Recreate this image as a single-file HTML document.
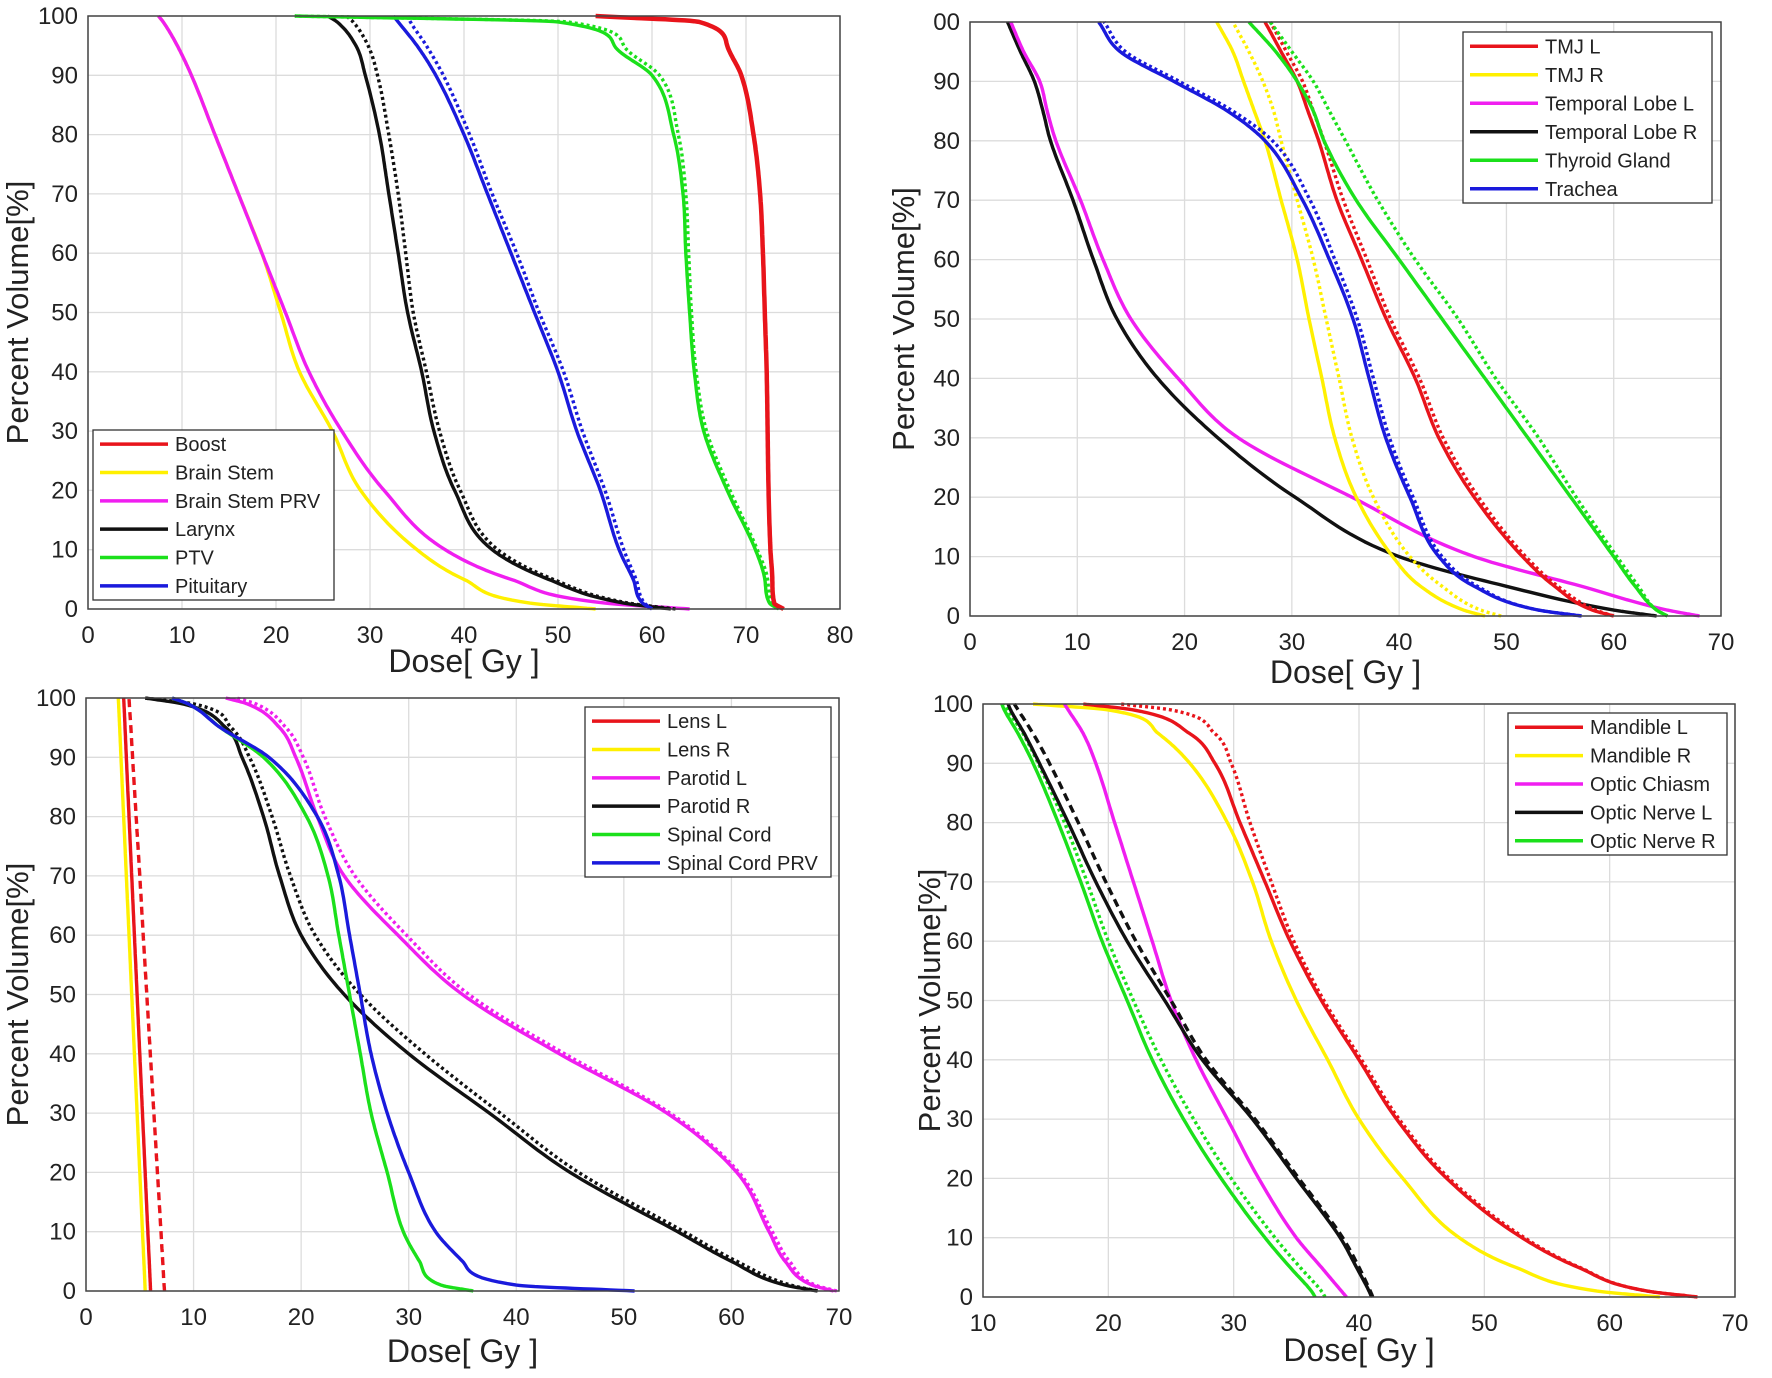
<!DOCTYPE html>
<html><head><meta charset="utf-8">
<style>
html,body{margin:0;padding:0;background:#fff;}
svg{display:block;}
text{font-family:"Liberation Sans Narrow","Liberation Sans",sans-serif;fill:#222;}
</style></head>
<body>
<svg id="fig" width="1772" height="1378" viewBox="0 0 1772 1378" xmlns="http://www.w3.org/2000/svg"></svg>
<script>
// ---------- DATA ----------
// Panel A (dose 0-80)
const volA = [100,99,95,90,80,70,60,50,40,30,20,10,5,1,0];
const boostDose = [54,65,68,69.5,70.8,71.5,71.8,72,72.2,72.3,72.4,72.6,72.8,73,74];
const brainStemDose = [7.5,8,9.5,11,13.5,16,18.5,20.5,22.5,26,29,35,40,47,54];
const brainStemPrvDose = [7.5,8,9.5,11,13.5,16,18.5,21,23.5,27,31.5,38,45,55,64];
const larynxDose = [25.5,26.5,28.5,29.5,31,32,33,34,35.5,36.8,39,43,49,57,62];
const larynxDotDose = [27.5,28.2,29.8,30.8,32,33,33.8,34.6,36,37.4,39.6,43.6,49.5,57.5,62.5];
const ptvDose = [22,50,56,60,62.3,63.3,63.6,64,64.5,65.5,68,71,72,72.5,73.5];
const ptvDotDose = [22,51,57,60.8,62.8,63.6,63.9,64.2,64.7,65.8,68.3,71.2,72.3,72.8,74];
const pituitaryDose = [32.5,33,35,37,40,42.5,45,47.5,50,52,54.5,56.5,58,59,60];
const pituitaryDotDose = [34,34.3,36,37.8,40.6,43,45.6,48,50.6,52.6,55,57,58.3,59.2,60];

// Panel B (dose 0-70)
const volB = [100,95,90,85,80,70,60,50,40,30,20,10,5,1,0];
const tmjLDose = [27.5,29,30.5,31.5,32.5,34.2,36.5,38.8,41.5,43.7,47,51.5,54.5,58,60];
const tmjLDotDose = [28,29.5,31,32,33,34.8,37,39.2,41.9,44.1,47.4,51.8,54.8,58.3,60];
const tmjRDose = [23,24.5,25.5,26.5,27.5,29,30.5,31.6,32.8,34,36,39.4,42,46,48];
const tmjRDotDose = [24.5,26,27.3,28.3,29,30.5,32,33.2,34.4,35.6,37.6,41,44,47.6,49.5];
const tempLobeLDose = [3.8,5,6.5,7.2,8,10.3,12.4,15,19.4,25,35.6,47,57,65,68];
const tempLobeRDose = [3.5,4.7,6,6.8,7.5,9.6,11.5,13.7,17.5,23.1,30.3,40,50,60,64];
const thyroidDose = [26,28.5,30.5,32,33,36,40,44,48,52,56,60,62,64,65];
const thyroidDotDose = [28,30,32,33.5,35,38,41.5,45.5,49,53,56.5,60.3,62.3,64,65];
const tracheaDose = [12,14,19,24,27.5,31,33.5,35.7,37.2,38.75,41,43.7,47,53,57];
const tracheaDotDose = [12.5,14.5,19.5,24.5,28.2,31.7,34,36.1,37.6,39.1,41.3,44,47.3,53,57];

// Panel C (dose 0-70)
const volC = [100,99,95,90,80,70,60,50,40,30,20,10,5,1,0];
const lensLDose = [3.5,3.53,3.63,3.75,4,4.25,4.5,4.75,5,5.25,5.5,5.75,5.88,5.98,6];
const lensRDose = [3,3.03,3.13,3.25,3.5,3.75,4,4.25,4.5,4.75,5,5.25,5.38,5.48,5.5];
const lensDotDose = [4,4.03,4.17,4.33,4.66,5,5.32,5.65,5.98,6.31,6.64,6.97,7.13,7.26,7.3];
const parotidLDose = [13,15,18,19.5,21.5,24,29,35,44,54,60.5,63.5,65,67.5,69.5];
const parotidLDotDose = [14,15.8,18.6,20.2,22.2,25,29.8,35.6,44.5,54.3,60.7,63.8,65.4,67.8,69.8];
const parotidRDose = [5.5,9,13,14.5,16.5,18,20,24,30,37.5,45,55,60,65,68];
const parotidRDotDose = [5.5,10,13.5,15.2,17.3,19,21.3,25.5,31.5,38.5,45.8,55.6,60.5,65.5,68];
const spinalCordDose = [8,9.5,12.5,16.5,20.5,22.5,23.5,24.5,25.5,26.5,28,29.5,31,33,36];
const spinalCordPrvDose = [8,9.5,12.5,17,21.5,23.5,24.5,25.5,26.5,28,30,32.5,35,40,51];

// Panel D (dose 10-70)
const volD = [100,99,95,90,80,70,60,50,40,30,20,10,5,1,0];
const mandibleLDose = [18,22,26.5,28.5,30.5,32.5,34.5,37,40,43,47,53,57.5,63,67];
const mandibleLDotDose = [21,25,28.5,29.8,31.3,33,34.8,37.2,40.2,43.2,47.2,53.2,57.6,63,67];
const mandibleRDose = [14,20,24,26.5,29.5,31.5,33,35,37.5,40,43.5,48,52.5,59,64];
const opticChiasmDose = [16.5,16.8,18,19,20.5,22,23.5,25,27,29.5,32,35,37,38.6,39];
const opticNerveLDose = [12,12.2,13.3,14.5,16.8,19,21.5,24.5,27.5,31.5,35,38.5,39.8,40.8,41];
const opticNerveLDashDose = [12.5,12.8,14,15.3,17.6,19.8,22.2,25,27.8,31.7,35.2,38.7,40,40.9,41.1];
const opticNerveRDose = [11.5,11.7,12.8,14,16,17.8,19.5,21.5,23.5,26,29,32.5,34.5,36.2,36.5];
const opticNerveRDotDose = [11.8,12,13.2,14.4,16.5,18.3,20,22,24.2,26.8,29.8,33.3,35.3,37,37.3];

// Tick labels
const xTicksA = [0,10,20,30,40,50,60,70,80];
const xTicks70 = [0,10,20,30,40,50,60,70];
const xTicksD = [10,20,30,40,50,60,70];
const yTicks = [0,10,20,30,40,50,60,70,80,90,100];

const RED="#e8141b", YEL="#fff000", MAG="#f01ef0", BLK="#111111", GRN="#1be01b", BLU="#1a1adc";

// ---------- RENDER ----------
const NS="http://www.w3.org/2000/svg";
const svg=document.getElementById('fig');
function mk(tag,attrs,parent){const e=document.createElementNS(NS,tag);for(const k in attrs)e.setAttribute(k,attrs[k]);(parent||svg).appendChild(e);return e;}

// monotone cubic interpolation of dose as a function of volume
function smooth(v,d){
  const n=v.length, m=[], dl=[];
  for(let i=0;i<n-1;i++){dl.push((d[i+1]-d[i])/(v[i+1]-v[i]));}
  m.push(dl[0]);
  for(let i=1;i<n-1;i++){m.push(dl[i-1]*dl[i]<=0?0:(dl[i-1]+dl[i])/2);}
  m.push(dl[n-2]);
  for(let i=0;i<n-1;i++){
    if(dl[i]===0){m[i]=0;m[i+1]=0;continue;}
    const a=m[i]/dl[i], b=m[i+1]/dl[i], s=a*a+b*b;
    if(s>9){const t=3/Math.sqrt(s);m[i]=t*a*dl[i];m[i+1]=t*b*dl[i];}
  }
  const out=[];
  for(let i=0;i<n-1;i++){
    const h=v[i+1]-v[i];
    for(let k=0;k<16;k++){
      const t=k/16, t2=t*t, t3=t2*t;
      const val=(2*t3-3*t2+1)*d[i]+(t3-2*t2+t)*h*m[i]+(-2*t3+3*t2)*d[i+1]+(t3-t2)*h*m[i+1];
      out.push([val,v[i]+t*h]);
    }
  }
  out.push([d[n-1],v[n-1]]);
  return out;
}

function panel(p){
  const g=mk('g',{});
  
  
  const xs=d=>p.L+(d-p.xmin)/(p.xmax-p.xmin)*(p.R-p.L);
  const ys=v=>p.B-v/100*(p.B-p.T);
  mk('rect',{x:p.L,y:p.T,width:p.R-p.L,height:p.B-p.T,fill:'#fff'},g);
  p.xt.forEach(t=>{
    const gl=mk('line',{x1:xs(t),x2:xs(t),y1:p.T,y2:p.B,stroke:'#dcdcdc','stroke-width':1.3},g);
    
    
    const tl=mk('text',{x:xs(t),y:p.B+34,'font-size':24,'text-anchor':'middle'},g);
    tl.textContent=t;
    
    
  });
  yTicks.forEach(t=>{
    const gl=mk('line',{x1:p.L,x2:p.R,y1:ys(t),y2:ys(t),stroke:'#dcdcdc','stroke-width':1.3},g);
    
    
    const tl=mk('text',{x:p.L-10,y:ys(t)+8,'font-size':24,'text-anchor':'end'},g);
    tl.textContent=(t===100&&p.clip100)?'00':t;
    
    
  });
  p.series.forEach(s=>{
    const vv=s.v.slice().reverse(), dd=s.d.slice().reverse();
    const pts=smooth(vv,dd).map(q=>xs(q[0]).toFixed(1)+','+ys(q[1]).toFixed(1)).join(' ');
    const a={points:pts,fill:'none',stroke:s.c,'stroke-width':s.w||3.4,'stroke-linejoin':'round'};
    if(s.dash)a['stroke-dasharray']=s.dash;
    const pl=mk('polyline',a,g);
    
    
  });
  mk('rect',{x:p.L,y:p.T,width:p.R-p.L,height:p.B-p.T,fill:'none',stroke:'#444','stroke-width':1.5},g);
  const xt=mk('text',{x:(p.L+p.R)/2,y:p.xtY,'font-size':32,'text-anchor':'middle','font-family':'Liberation Sans, sans-serif'},g);
  xt.textContent='Dose[ Gy ]';
  
  
  const cy=(p.T+p.B)/2;
  const yt=mk('text',{x:p.ytX,y:cy,'font-size':31,'text-anchor':'middle',transform:`rotate(-90 ${p.ytX} ${cy})`,'font-family':'Liberation Sans, sans-serif'},g);
  yt.textContent='Percent Volume[%]';
  
  
  const lg=mk('g',{},g);
  
  
  const lh=(p.lg.b-p.lg.t);
  mk('rect',{x:p.lg.l,y:p.lg.t,width:p.lg.r-p.lg.l,height:lh,fill:'#fff',stroke:'#333','stroke-width':1.3},lg);
  const step=lh/p.legend.length;
  p.legend.forEach((e,i)=>{
    const y=p.lg.t+step*(i+0.5);
    const ln=mk('line',{x1:p.lg.l+7,x2:p.lg.l+75,y1:y,y2:y,stroke:e[1],'stroke-width':3.5},lg);
    
    
    const tx=mk('text',{x:p.lg.l+82,y:y+7,'font-size':20},lg);
    tx.textContent=e[0];
    
    
  });
}

panel({name:'panel-a',L:88,R:840,T:16,B:609,xmin:0,xmax:80,xt:xTicksA,xtY:672,ytX:28,
  lg:{l:93,r:334,t:430,b:600},
  legend:[['Boost',RED],['Brain Stem',YEL],['Brain Stem PRV',MAG],['Larynx',BLK],['PTV',GRN],['Pituitary',BLU]],
  series:[
    {id:'brain-stem-line',d:brainStemDose,v:volA,c:YEL},
    {id:'brain-stem-prv-line',d:brainStemPrvDose,v:volA,c:MAG},
    {id:'larynx-line',d:larynxDose,v:volA,c:BLK},
    {id:'larynx-dotted-line',d:larynxDotDose,v:volA,c:BLK,dash:'3 3'},
    {id:'pituitary-line',d:pituitaryDose,v:volA,c:BLU},
    {id:'pituitary-dotted-line',d:pituitaryDotDose,v:volA,c:BLU,dash:'3 3'},
    {id:'ptv-line',d:ptvDose,v:volA,c:GRN},
    {id:'ptv-dotted-line',d:ptvDotDose,v:volA,c:GRN,dash:'3 3'},
    {id:'boost-line',d:boostDose,v:volA,c:RED,w:4.5}
  ]});

panel({name:'panel-b',L:970,R:1721,T:22,B:616,xmin:0,xmax:70,xt:xTicks70,xtY:683,ytX:914,clip100:true,
  lg:{l:1463,r:1712,t:32,b:203},
  legend:[['TMJ L',RED],['TMJ R',YEL],['Temporal Lobe L',MAG],['Temporal Lobe R',BLK],['Thyroid Gland',GRN],['Trachea',BLU]],
  series:[
    {id:'temporal-lobe-r-line',d:tempLobeRDose,v:volB,c:BLK},
    {id:'temporal-lobe-l-line',d:tempLobeLDose,v:volB,c:MAG},
    {id:'tmj-r-line',d:tmjRDose,v:volB,c:YEL},
    {id:'tmj-r-dotted-line',d:tmjRDotDose,v:volB,c:YEL,dash:'3 3'},
    {id:'trachea-line',d:tracheaDose,v:volB,c:BLU},
    {id:'trachea-dotted-line',d:tracheaDotDose,v:volB,c:BLU,dash:'3 3'},
    {id:'tmj-l-line',d:tmjLDose,v:volB,c:RED},
    {id:'tmj-l-dotted-line',d:tmjLDotDose,v:volB,c:RED,dash:'3 3'},
    {id:'thyroid-line',d:thyroidDose,v:volB,c:GRN},
    {id:'thyroid-dotted-line',d:thyroidDotDose,v:volB,c:GRN,dash:'3 3'}
  ]});

panel({name:'panel-c',L:86,R:839,T:698,B:1291,xmin:0,xmax:70,xt:xTicks70,xtY:1362,ytX:28,
  lg:{l:585,r:831,t:707,b:877},
  legend:[['Lens L',RED],['Lens R',YEL],['Parotid L',MAG],['Parotid R',BLK],['Spinal Cord',GRN],['Spinal Cord PRV',BLU]],
  series:[
    {id:'lens-r-line',d:lensRDose,v:volC,c:YEL},
    {id:'lens-l-line',d:lensLDose,v:volC,c:RED},
    {id:'lens-dashed-line',d:lensDotDose,v:volC,c:RED,dash:'8 5'},
    {id:'parotid-l-line',d:parotidLDose,v:volC,c:MAG},
    {id:'parotid-l-dotted-line',d:parotidLDotDose,v:volC,c:MAG,dash:'3 3'},
    {id:'parotid-r-line',d:parotidRDose,v:volC,c:BLK},
    {id:'parotid-r-dotted-line',d:parotidRDotDose,v:volC,c:BLK,dash:'3 3'},
    {id:'spinal-cord-line',d:spinalCordDose,v:volC,c:GRN},
    {id:'spinal-cord-prv-line',d:spinalCordPrvDose,v:volC,c:BLU}
  ]});

panel({name:'panel-d',L:983,R:1735,T:704,B:1297,xmin:10,xmax:70,xt:xTicksD,xtY:1361,ytX:940,
  lg:{l:1508,r:1727,t:713,b:855},
  legend:[['Mandible L',RED],['Mandible R',YEL],['Optic Chiasm',MAG],['Optic Nerve L',BLK],['Optic Nerve R',GRN]],
  series:[
    {id:'mandible-r-line',d:mandibleRDose,v:volD,c:YEL},
    {id:'mandible-l-line',d:mandibleLDose,v:volD,c:RED},
    {id:'mandible-l-dotted-line',d:mandibleLDotDose,v:volD,c:RED,dash:'3 3'},
    {id:'optic-nerve-r-line',d:opticNerveRDose,v:volD,c:GRN},
    {id:'optic-nerve-r-dotted-line',d:opticNerveRDotDose,v:volD,c:GRN,dash:'3 3'},
    {id:'optic-chiasm-line',d:opticChiasmDose,v:volD,c:MAG},
    {id:'optic-nerve-l-line',d:opticNerveLDose,v:volD,c:BLK},
    {id:'optic-nerve-l-dashed-line',d:opticNerveLDashDose,v:volD,c:BLK,dash:'8 5'}
  ]});
</script>
</body></html>
